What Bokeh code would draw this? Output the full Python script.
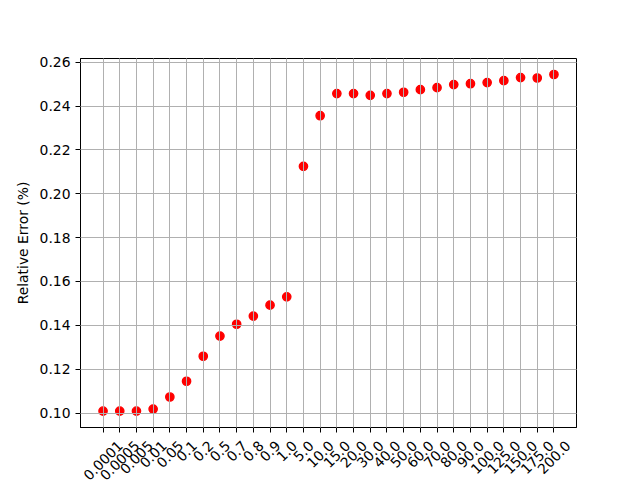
import math
from bokeh.plotting import figure
from bokeh.layouts import column
from bokeh.models import (Range1d, SingleIntervalTicker, FixedTicker, PrintfTickFormatter,
                          ColumnDataSource)
from bokeh.core.properties import value
from bokeh.embed import file_html
from bokeh.resources import INLINE

categories = ["0.0001", "0.0005", "0.005", "0.01", "0.05", "0.1", "0.2", "0.5", "0.7",
              "0.8", "0.9", "1.0", "5.0", "10.0", "15.0", "20.0", "30.0", "40.0", "50.0",
              "60.0", "70.0", "80.0", "90.0", "100.0", "125.0", "150.0", "175.0", "200.0"]
relative_error = [0.1009, 0.1009, 0.1009, 0.1018, 0.1073, 0.1145, 0.1259, 0.1351, 0.1405,
                  0.1442, 0.1492, 0.1530, 0.2125, 0.2356, 0.2457, 0.2457, 0.2449, 0.2457,
                  0.2463, 0.2475, 0.2484, 0.2498, 0.2502, 0.2507, 0.2516, 0.2530, 0.2528,
                  0.2544]
y_label = "Relative Error (%)"

FONT = "DejaVu Sans"
FS = 13.9  # 10pt at 100 dpi
n = len(categories)
xi = list(range(n))
Y0, Y1 = 0.0934, 0.2617

xr = Range1d(-0.05 * (n - 1), (n - 1) * 1.05)
src = ColumnDataSource(data=dict(x=xi, y=relative_error))

p = figure(
    x_range=xr, y_range=Range1d(Y0, Y1),
    frame_width=496, frame_height=369,
    min_border_left=80, min_border_right=48, min_border_top=58, min_border_bottom=10,
    output_backend="svg", toolbar_location=None,
)

p.scatter("x", "y", source=src, size=8.3, fill_color="red", line_color="red", line_width=1.4)

p.xaxis.ticker = FixedTicker(ticks=xi)
p.xaxis.major_label_overrides = {i: "" for i in xi}
p.xaxis.major_label_text_font_size = "1px"
p.xaxis.major_label_standoff = 0
p.yaxis.ticker = SingleIntervalTicker(interval=0.02)
p.yaxis.formatter = PrintfTickFormatter(format="%.2f")
p.yaxis.major_label_text_font_size = f"{FS}px"
p.yaxis.major_label_standoff = 5
p.yaxis.axis_label = y_label
p.yaxis.axis_label_text_font_style = "normal"
p.yaxis.axis_label_text_font = FONT
p.yaxis.axis_label_text_font_size = f"{FS}px"
p.yaxis.axis_label_text_color = "black"
p.yaxis.axis_label_standoff = 6

for ax in (p.xaxis, p.yaxis):
    ax.major_label_text_font = FONT
    ax.major_label_text_color = "black"
    ax.axis_line_color = "black"
    ax.major_tick_line_color = "black"
    ax.major_tick_out = 5
    ax.major_tick_in = 0
    ax.minor_tick_line_color = None

p.outline_line_color = "black"
p.outline_line_alpha = 1
p.outline_line_width = 1

for g in (p.xgrid, p.ygrid):
    g.grid_line_color = "#b0b0b0"
    g.grid_line_width = 1
    g.level = "overlay"

p.background_fill_color = "white"
p.border_fill_color = "white"

# x tick labels in a strip below: rotated 45 deg, centred on each tick (matplotlib ha="center")
LH = 47
def text_width(s):
    return sum((0.318 if c == "." else 0.636) * FS for c in s)
text_h = 1.164 * FS
lab_y = [(text_width(s) + text_h) * math.sin(math.pi / 4) / 2 for s in categories]

q = figure(
    x_range=xr, y_range=Range1d(LH, 0),
    frame_width=496, frame_height=LH,
    min_border_left=80, min_border_right=48, min_border_top=0, min_border_bottom=0,
    x_axis_location=None, y_axis_location=None,
    output_backend="svg", toolbar_location=None,
)
q.xgrid.visible = False
q.ygrid.visible = False
q.outline_line_color = None
q.background_fill_color = "white"
q.border_fill_color = "white"
q.text(x=xi, y=lab_y, text=categories, angle=math.pi / 4,
       text_align="center", text_baseline="middle",
       text_font=value(FONT), text_font_size=value(f"{FS}px"), text_color="black")

layout = column(p, q, spacing=0)
open("out.html", "w").write(file_html(layout, INLINE))
